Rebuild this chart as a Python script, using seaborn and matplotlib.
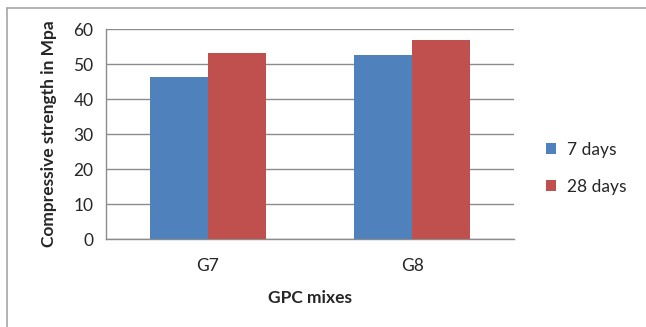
import pandas as pd
import matplotlib.pyplot as plt
import seaborn as sns
from matplotlib.lines import Line2D
from matplotlib.patches import Patch

# ── data ──────────────────────────────────────────────────────────────────────

mixes = ["G7", "G8"]
series = ["7 days", "28 days"]
days_7 = [46.4, 52.5]
days_28 = [53.2, 57.0]
y_ticks = [0, 10, 20, 30, 40, 50, 60]

df = pd.DataFrame({
    "mix": mixes * 2,
    "age": [series[0]] * 2 + [series[1]] * 2,
    "strength": days_7 + days_28,
})

colors = {"7 days": "#4F81BD", "28 days": "#C0504D"}

# ── plot ──────────────────────────────────────────────────────────────────────

sns.set_style("white")
plt.rcParams["font.family"] = ["Lato", "DejaVu Sans"]

fig = plt.figure(figsize=(6.46, 3.27), dpi=100)
ax = fig.add_axes([0.164, 0.269, 0.632, 0.642])

sns.barplot(data=df, x="mix", y="strength", hue="age", palette=colors,
            width=0.57, gap=0, saturation=1, ax=ax, legend=False,
            edgecolor="none", zorder=3)

grid_c = "#8c8c8c"
fs = 12.5
ax.set_ylim(0, 60)
ax.set_xlim(-0.5, 1.5)
ax.set_yticks(y_ticks)
ax.yaxis.grid(True, color=grid_c, linewidth=1, zorder=0)
ax.set_axisbelow(True)

# category labels in the middle, ticks on the boundaries (excel style)
ax.set_xticks([-0.5, 0.5, 1.5])
ax.set_xticklabels(["", "", ""])
ax.set_xticks([0, 1], minor=True)
ax.set_xticklabels(mixes, minor=True, fontsize=fs)
ax.tick_params(axis="x", which="major", direction="out", length=5,
               color=grid_c, width=1)
ax.tick_params(axis="x", which="minor", length=0, pad=14)
ax.tick_params(axis="y", direction="out", length=5, color=grid_c, width=1,
               labelsize=fs, pad=4)

for side in ["top", "right"]:
    ax.spines[side].set_visible(False)
for side in ["left", "bottom"]:
    ax.spines[side].set_color(grid_c)
    ax.spines[side].set_linewidth(1)

ax.set_xlabel("GPC mixes", fontsize=fs, fontweight="bold", labelpad=11)
ax.set_ylabel("Compressive strength in Mpa", fontsize=fs,
              fontweight="bold", labelpad=12)

handles = [Patch(facecolor=colors[s], edgecolor="none", label=s) for s in series]
fig.legend(handles=handles, loc="center left", bbox_to_anchor=(0.821, 0.485),
           frameon=False, fontsize=fs, handlelength=0.6, handleheight=0.6,
           handletextpad=0.6, labelspacing=1.2)

# outer chart border (only top and left are inside the crop)
fig.add_artist(Line2D([0.011, 0.011], [0, 0.977], transform=fig.transFigure,
                      color="#a6a6a6", linewidth=1.2))
fig.add_artist(Line2D([0.011, 1.0], [0.977, 0.977], transform=fig.transFigure,
                      color="#a6a6a6", linewidth=1.2))

plt.savefig("out.png", dpi=100)
plt.close()
